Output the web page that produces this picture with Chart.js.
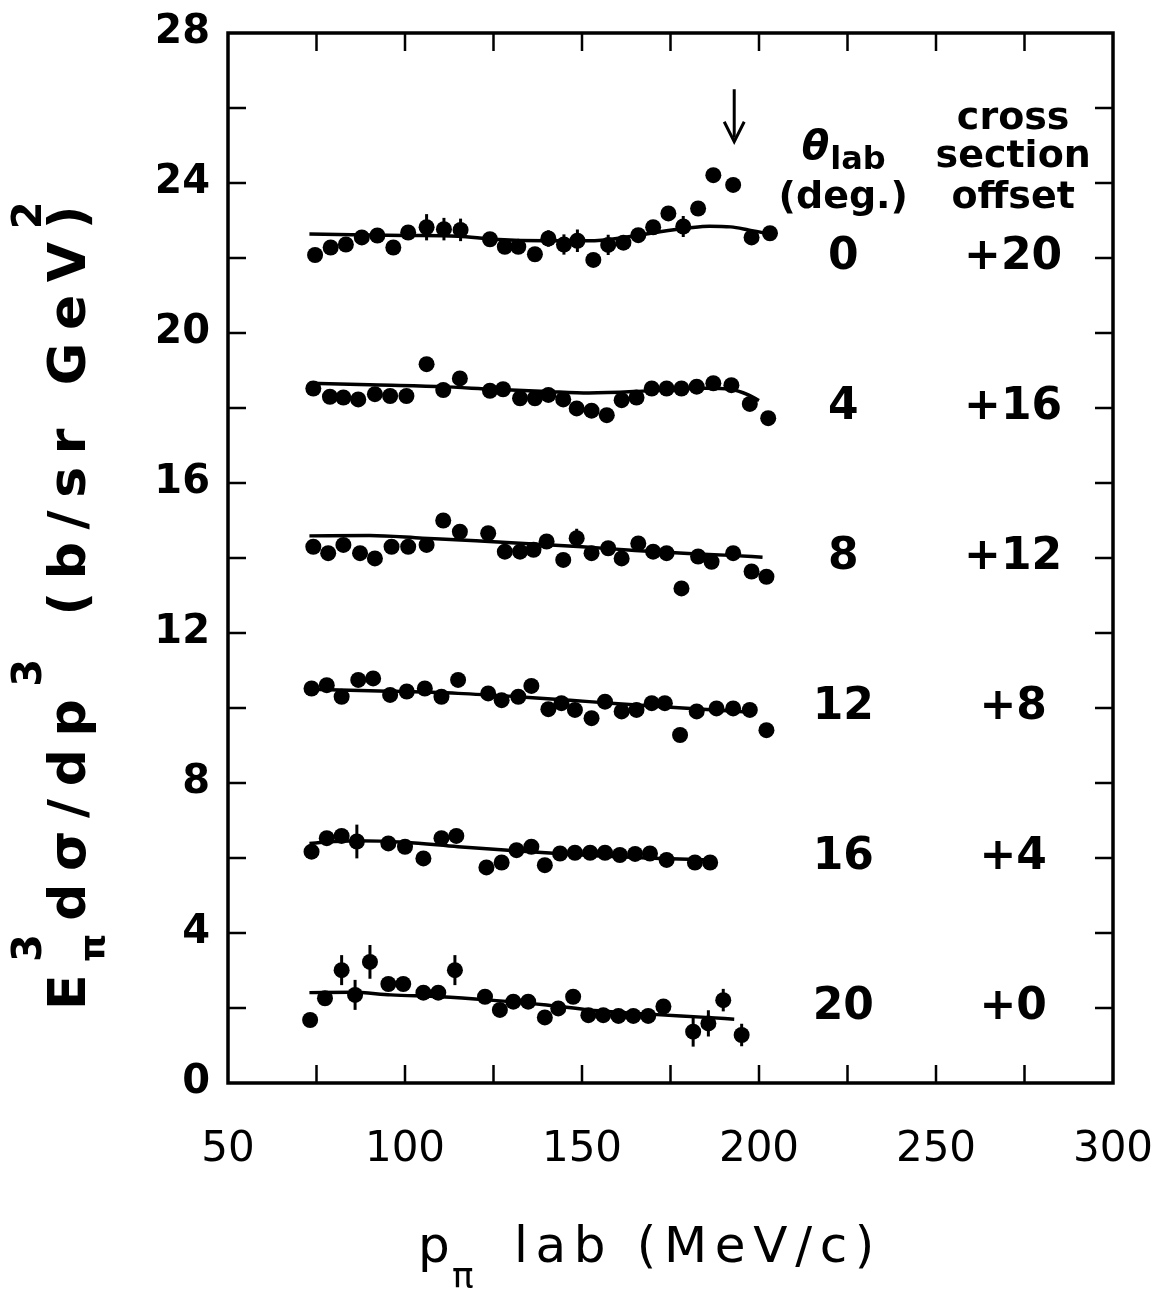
<!DOCTYPE html>
<html lang="en">
<head>
<meta charset="UTF-8">
<title>Pion invariant cross section vs momentum</title>
<style>
  body { margin: 0; background: #fff; }
  #wrap { width: 1170px; height: 1290px; }
</style>
</head>
<body>
<div id="wrap"><canvas id="myChart" width="1170" height="1290"></canvas></div>

<script src="https://cdn.jsdelivr.net/npm/chart.js"></script>
<script>
// row labels: lab angle (deg) and cross section offset
const angles = ['0', '4', '8', '12', '16', '20'];
const offsetLabels = ['+20', '+16', '+12', '+8', '+4', '+0'];
const offsets = [20, 16, 12, 8, 4, 0];

// axis ticks
const xTicks = [50, 100, 150, 200, 250, 300];
const yTicks = [0, 4, 8, 12, 16, 20, 24, 28];

// theta = 0 (offset +20)
const p0 = [74.6, 79.0, 83.3, 87.8, 92.2, 96.7, 100.9, 106.1, 111.0, 115.7, 124.0, 128.2, 132.0, 136.7, 140.5, 144.9, 148.7, 153.2, 157.4, 161.7, 165.9, 170.1, 174.4, 178.6, 182.8, 187.1, 192.7, 197.9, 203.1];
const v0 = [22.08, 22.28, 22.36, 22.55, 22.6, 22.28, 22.68, 22.82, 22.77, 22.75, 22.5, 22.3, 22.3, 22.1, 22.52, 22.36, 22.46, 21.95, 22.35, 22.41, 22.61, 22.82, 23.19, 22.84, 23.32, 24.21, 23.95, 22.55, 22.66];
const err0 = [0, 0, 0, 0, 0, 0, 0, 0.35, 0.3, 0.3, 0, 0, 0, 0, 0.22, 0.27, 0.3, 0, 0.27, 0, 0, 0, 0, 0.28, 0, 0, 0, 0, 0];
const fitP0 = [73, 85, 100, 115, 125, 140, 152, 162, 172, 180, 186, 192, 197, 202];
const fitV0 = [22.64, 22.62, 22.6, 22.58, 22.5, 22.46, 22.46, 22.55, 22.7, 22.8, 22.85, 22.83, 22.75, 22.66];

// theta = 4 (offset +16)
const p4 = [74.1, 78.8, 82.6, 86.8, 91.5, 95.8, 100.4, 106.1, 110.8, 115.5, 124.0, 127.7, 132.5, 136.7, 140.5, 144.7, 148.5, 152.7, 157.0, 161.2, 165.4, 169.7, 173.9, 178.1, 182.4, 187.1, 192.2, 197.4, 202.6];
const v4 = [18.52, 18.30, 18.28, 18.23, 18.37, 18.32, 18.32, 19.17, 18.48, 18.79, 18.46, 18.5, 18.26, 18.26, 18.35, 18.23, 17.99, 17.93, 17.81, 18.21, 18.28, 18.52, 18.52, 18.52, 18.57, 18.66, 18.61, 18.11, 17.73];
const err4 = [0.2, 0, 0, 0, 0, 0, 0, 0, 0.15, 0, 0, 0, 0, 0, 0, 0, 0, 0, 0, 0, 0, 0, 0, 0.15, 0, 0, 0, 0, 0];
const fitP4 = [73, 90, 110, 125, 140, 152, 165, 175, 185, 192, 197, 200];
const fitV4 = [18.66, 18.62, 18.57, 18.5, 18.44, 18.4, 18.44, 18.5, 18.53, 18.5, 18.35, 18.2];

// theta = 8 (offset +12)
const p8 = [74.1, 78.3, 82.6, 87.3, 91.5, 96.2, 100.9, 106.1, 110.8, 115.5, 123.5, 128.2, 132.5, 136.3, 140.0, 144.7, 148.5, 152.7, 157.4, 161.2, 165.9, 170.1, 173.9, 178.1, 182.8, 186.6, 192.7, 197.9, 202.1];
const v8 = [14.30, 14.13, 14.35, 14.13, 13.99, 14.30, 14.30, 14.35, 15.0, 14.70, 14.66, 14.17, 14.17, 14.22, 14.44, 13.95, 14.53, 14.13, 14.26, 13.99, 14.39, 14.17, 14.13, 13.19, 14.04, 13.9, 14.13, 13.64, 13.5];
const err8 = [0, 0, 0, 0, 0, 0, 0, 0, 0, 0, 0, 0, 0, 0, 0.12, 0, 0.25, 0, 0, 0, 0, 0, 0, 0, 0, 0, 0, 0, 0];
const fitP8 = [73, 90, 105, 120, 135, 150, 165, 180, 192, 201];
const fitV8 = [14.59, 14.6, 14.53, 14.46, 14.38, 14.3, 14.2, 14.12, 14.07, 14.02];

// theta = 12 (offset +8)
const p12 = [73.6, 77.9, 82.1, 86.8, 91.0, 95.8, 100.5, 105.6, 110.3, 115.0, 123.5, 127.3, 132.0, 135.7, 140.5, 144.2, 148.0, 152.7, 156.5, 161.2, 165.4, 169.7, 173.4, 177.7, 182.4, 188.0, 192.7, 197.4, 202.1];
const v12 = [10.52, 10.61, 10.30, 10.75, 10.79, 10.35, 10.44, 10.52, 10.30, 10.75, 10.39, 10.21, 10.30, 10.59, 9.97, 10.13, 9.95, 9.73, 10.17, 9.91, 9.95, 10.13, 10.13, 9.28, 9.91, 9.99, 9.99, 9.95, 9.41];
const err12 = [];
const fitP12 = [73, 90, 115, 135, 152, 175, 199];
const fitV12 = [10.5, 10.46, 10.39, 10.28, 10.17, 10.02, 9.88];

// theta = 16 (offset +4)
const p16 = [73.6, 77.9, 82.1, 86.4, 95.3, 100.0, 105.2, 110.3, 114.5, 123.0, 127.3, 131.5, 135.7, 139.5, 143.8, 148.0, 152.3, 156.5, 160.7, 165.0, 169.2, 173.9, 181.9, 186.2];
const v16 = [6.17, 6.53, 6.59, 6.44, 6.39, 6.30, 5.99, 6.53, 6.59, 5.75, 5.88, 6.21, 6.30, 5.81, 6.12, 6.14, 6.14, 6.14, 6.08, 6.11, 6.12, 5.95, 5.88, 5.88];
const err16 = [0, 0, 0, 0.45];
const fitP16 = [73, 86, 100, 115, 130, 143, 160, 175, 186];
const fitV16 = [6.39, 6.46, 6.42, 6.3, 6.2, 6.12, 6.03, 5.98, 5.95];

// theta = 20 (offset +0)
const p20 = [73.2, 77.4, 82.1, 85.9, 90.1, 95.3, 99.5, 105.2, 109.4, 114.1, 122.6, 126.8, 130.6, 134.8, 139.5, 143.3, 147.5, 151.8, 156.0, 160.3, 164.5, 168.7, 173.0, 181.4, 185.7, 189.9, 195.1];
const v20 = [1.68, 2.26, 3.01, 2.35, 3.23, 2.64, 2.64, 2.41, 2.41, 3.01, 2.30, 1.95, 2.17, 2.17, 1.75, 1.99, 2.30, 1.81, 1.81, 1.79, 1.79, 1.79, 2.04, 1.37, 1.59, 2.21, 1.28];
const err20 = [0, 0, 0.4, 0.4, 0.45, 0, 0, 0, 0, 0.4, 0, 0, 0, 0, 0, 0, 0.15, 0, 0, 0, 0, 0, 0, 0.4, 0.35, 0.3, 0.3];
const fitP20 = [73, 85, 96, 110, 124, 140, 152, 170, 185, 193];
const fitV20 = [2.41, 2.42, 2.35, 2.3, 2.21, 2.08, 1.95, 1.83, 1.75, 1.7];

// arrow marking the peak in the 0 deg data
const arrowX = 193;
const arrowFrom = 26.5;
const arrowTo = 25.1;

const rows = [
  [p0, v0, err0, fitP0, fitV0],
  [p4, v4, err4, fitP4, fitV4],
  [p8, v8, err8, fitP8, fitV8],
  [p12, v12, err12, fitP12, fitV12],
  [p16, v16, err16, fitP16, fitV16],
  [p20, v20, err20, fitP20, fitV20]
];

const datasets = [];
rows.forEach(function (r, i) {
  datasets.push({
    label: angles[i] + ' deg',
    data: r[0].map(function (x, j) { return { x: x, y: r[1][j] }; }),
    errs: r[2],
    pointRadius: 8,
    pointHoverRadius: 8,
    backgroundColor: '#000',
    borderColor: '#000',
    borderWidth: 0
  });
  datasets.push({
    label: angles[i] + ' deg fit',
    data: r[3].map(function (x, j) { return { x: x, y: r[4][j] }; }),
    showLine: true,
    tension: 0.4,
    cubicInterpolationMode: 'monotone',
    pointRadius: 0,
    borderColor: '#000',
    borderWidth: 3.5,
    fill: false
  });
});

const INK = '#000';

// lay out a run of [text, font, baselineShift, stacked] pieces so it fills a given length
function drawRun(ctx, pieces, x0, x1, base) {
  const hasLS = 'letterSpacing' in ctx;
  let plain = 0, chars = 0;
  pieces.forEach(function (p) {
    ctx.font = p[1];
    if (hasLS) ctx.letterSpacing = '0px';
    if (!p[3]) { plain += ctx.measureText(p[0]).width; chars += p[0].length; }
  });
  const ls = hasLS ? Math.max(0, (x1 - x0 - plain) / chars) : 0;
  let x = x0;
  pieces.forEach(function (p) {
    ctx.font = p[1];
    if (hasLS) ctx.letterSpacing = ls + 'px';
    ctx.fillText(p[0], x, base + p[2]);
    if (!p[3]) x += ctx.measureText(p[0]).width;
  });
  if (hasLS) ctx.letterSpacing = '0px';
}

const framePlugin = {
  id: 'frame',
  afterDatasetsDraw(chart) {
    const ctx = chart.ctx;
    const xs = chart.scales.x, ys = chart.scales.y;
    ctx.save();
    ctx.strokeStyle = INK;
    ctx.lineWidth = 3;
    // error bars
    chart.data.datasets.forEach(function (ds) {
      if (!ds.errs) return;
      ds.data.forEach(function (pt, j) {
        const e = ds.errs[j];
        if (!e) return;
        const px = xs.getPixelForValue(pt.x);
        ctx.beginPath();
        ctx.moveTo(px, ys.getPixelForValue(pt.y - e));
        ctx.lineTo(px, ys.getPixelForValue(pt.y + e));
        ctx.stroke();
      });
    });
    ctx.restore();
  },
  afterDraw(chart) {
    const ctx = chart.ctx;
    const a = chart.chartArea;
    const xs = chart.scales.x, ys = chart.scales.y;
    ctx.save();
    ctx.strokeStyle = INK;
    ctx.fillStyle = INK;

    // box
    ctx.lineWidth = 3.5;
    ctx.strokeRect(a.left, a.top, a.right - a.left, a.bottom - a.top);

    // inward ticks
    ctx.lineWidth = 2.5;
    const tl = 18;
    for (let v = 2; v < 28; v += 2) {
      const py = ys.getPixelForValue(v);
      ctx.beginPath();
      ctx.moveTo(a.left, py); ctx.lineTo(a.left + tl, py);
      ctx.moveTo(a.right, py); ctx.lineTo(a.right - tl, py);
      ctx.stroke();
    }
    for (let v = 75; v < 300; v += 25) {
      const px = xs.getPixelForValue(v);
      ctx.beginPath();
      ctx.moveTo(px, a.bottom); ctx.lineTo(px, a.bottom - tl);
      ctx.moveTo(px, a.top); ctx.lineTo(px, a.top + tl);
      ctx.stroke();
    }

    // arrow
    const ax = xs.getPixelForValue(arrowX);
    const ay1 = ys.getPixelForValue(arrowFrom);
    const ay2 = ys.getPixelForValue(arrowTo);
    ctx.lineWidth = 3;
    ctx.beginPath();
    ctx.moveTo(ax, ay1); ctx.lineTo(ax, ay2 - 4);
    ctx.stroke();
    ctx.beginPath();
    ctx.moveTo(ax - 10, ay2 - 20);
    ctx.lineTo(ax, ay2);
    ctx.lineTo(ax + 10, ay2 - 20);
    ctx.stroke();

    // right-hand columns
    const colA = xs.getPixelForValue(223.8);
    const colB = xs.getPixelForValue(271.8);
    ctx.textAlign = 'center';
    ctx.textBaseline = 'middle';
    ctx.font = 'bold 44px "DejaVu Sans"';
    angles.forEach(function (t, i) {
      const py = ys.getPixelForValue(offsets[i] + 2.0);
      ctx.fillText(t, colA, py);
      ctx.fillText(offsetLabels[i], colB, py);
    });

    ctx.font = 'bold 38px "DejaVu Sans"';
    ctx.fillText('cross', colB, ys.getPixelForValue(25.7));
    ctx.fillText('section', colB, ys.getPixelForValue(24.7));
    ctx.fillText('offset', colB, ys.getPixelForValue(23.6));
    ctx.fillText('(deg.)', colA, ys.getPixelForValue(23.6));

    // theta_lab
    const ty = ys.getPixelForValue(24.75);
    ctx.textAlign = 'left';
    ctx.font = 'italic bold 40px "DejaVu Sans"';
    const thW = ctx.measureText('\u03B8').width;
    ctx.font = 'bold 32px "DejaVu Sans"';
    const labW = ctx.measureText('lab').width;
    const tx = colA - (thW + labW) / 2;
    ctx.font = 'italic bold 40px "DejaVu Sans"';
    ctx.fillText('\u03B8', tx, ty - 6);
    ctx.font = 'bold 32px "DejaVu Sans"';
    ctx.fillText('lab', tx + thW + 1, ty + 6);

    // x axis title
    ctx.textBaseline = 'alphabetic';
    ctx.font = '50px "DejaVu Sans"';
    ctx.fillText('p', 418, 1262);
    ctx.font = '36px "DejaVu Sans"';
    ctx.fillText('\u03C0', 452, 1288);
    drawRun(ctx, [['lab (MeV/c)', '50px "DejaVu Sans"', 0]], 514, 882, 1262);

    // y axis title, rotated
    ctx.translate(65, 1083);
    ctx.rotate(-Math.PI / 2);
    const big = 'bold 52px "DejaVu Sans"';
    const sub = 'bold 36px "DejaVu Sans"';
    const sup = 'bold 40px "DejaVu Sans"';
    drawRun(ctx, [
      ['E', big, 0],
      ['3', sup, -44, true],
      ['\u03C0', sub, 20],
      ['d\u03C3/dp', big, 0],
      ['3', sup, -44],
      [' (b/sr GeV', big, 0],
      ['2', sup, -44, true],
      [')', big, 0]
    ], 73, 890, 20);

    ctx.restore();
  }
};

const ctx = document.getElementById('myChart');

new Chart(ctx, {
  type: 'scatter',
  data: { datasets: datasets },
  options: {
    responsive: false,
    devicePixelRatio: 1,
    animation: false,
    layout: { padding: { left: 158, right: 57, top: 33, bottom: 117 } },
    plugins: {
      legend: { display: false },
      tooltip: { enabled: false }
    },
    scales: {
      x: {
        type: 'linear',
        min: 50,
        max: 300,
        offset: false,
        afterBuildTicks: function (scale) {
          scale.ticks = xTicks.map(function (v) { return { value: v }; });
        },
        afterFit: function (scale) {
          scale.height = 90;
          scale.paddingLeft = 0;
          scale.paddingRight = 0;
        },
        grid: { display: false },
        border: { display: false },
        ticks: {
          color: INK,
          padding: 34,
          maxRotation: 0,
          font: { family: 'DejaVu Sans', size: 42 }
        }
      },
      y: {
        min: 0,
        max: 28,
        afterBuildTicks: function (scale) {
          scale.ticks = yTicks.map(function (v) { return { value: v }; });
        },
        afterFit: function (scale) {
          scale.width = 70;
          scale.paddingTop = 0;
          scale.paddingBottom = 0;
        },
        grid: { display: false },
        border: { display: false },
        ticks: {
          color: INK,
          padding: 10,
          font: { family: 'DejaVu Sans', size: 40, weight: 'bold' }
        }
      }
    }
  },
  plugins: [framePlugin]
});
</script>
</body>
</html>
